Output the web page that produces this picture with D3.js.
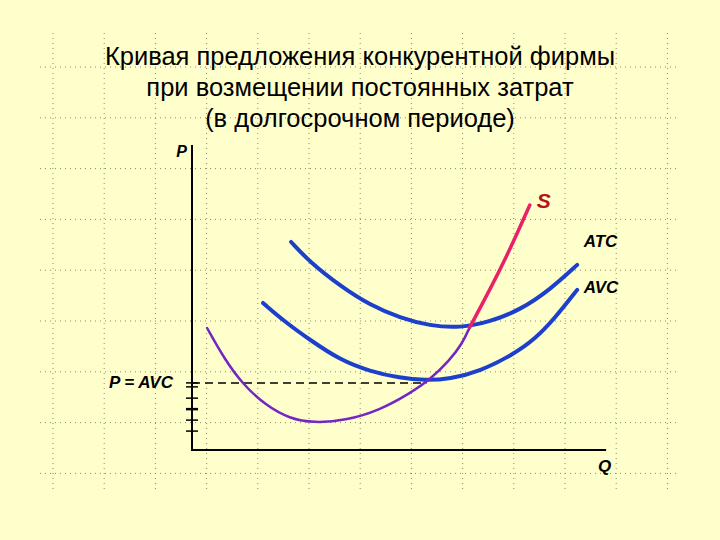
<!DOCTYPE html>
<html>
<head>
<meta charset="utf-8">
<script src="https://cdn.jsdelivr.net/npm/d3@7"></script>
<style>
  body { margin:0; background:#ffffcc; }
  svg { display:block; font-family:"Liberation Sans", Arial, sans-serif; }
</style>
</head>
<body>
<div id="chart-area"></div>
<script>
// title lines
const titleLines = ["Кривая предложения конкурентной фирмы",
                    "при возмещении постоянных затрат",
                    "(в долгосрочном периоде)"];

// curves: Q and cost values (0..100 units on both axes)
const mcQ   = [3.7, 8.1, 12.5, 17.9, 24.0, 29.9, 37.5, 46.1, 53.4, 58.3, 63.2, 66.2, 68.1];
const mcC   = [40.0, 29.5, 21.5, 14.8, 10.2, 8.9, 9.6, 13.1, 18.6, 23.0, 29.5, 34.8, 40.3];
const sQ    = [68.1, 73.0, 77.9, 82.8];
const sC    = [40.3, 52.5, 65.6, 80.3];
const atcQ  = [24.3, 28.9, 36.3, 43.6, 51.0, 58.3, 65.7, 73.0, 80.4, 87.7, 94.4];
const atcC  = [68.2, 61.6, 53.8, 47.5, 43.3, 40.7, 40.0, 42.0, 45.9, 52.5, 60.7];
const avcQ  = [17.4, 22.8, 28.9, 36.3, 43.6, 51.0, 57.1, 63.2, 70.6, 78.7, 84.1, 89.0, 94.4];
const avcC  = [48.2, 42.0, 36.1, 29.5, 25.8, 23.6, 22.8, 23.3, 25.8, 31.3, 36.4, 43.3, 52.5];

// P = AVC level and the little ticks on the price axis
const pAvc = 22.0;
const pAvcQ = 57.5;
const priceTicks = [22.0, 20.7, 17.0, 13.4, 9.8, 6.2];

const W = 720, H = 540;
const margin = { left:192, right:120, top:145, bottom:90 };
const width = W - margin.left - margin.right,
      height = H - margin.top - margin.bottom;

const svg = d3.select("#chart-area")
    .append("svg")
    .attr("width", W)
    .attr("height", H);

svg.append("rect").attr("width", W).attr("height", H).attr("fill", "#ffffcc");

// dotted background grid
const gridX = d3.range(13).map(i => 53 + i * 51.2);
const gridY = d3.range(9).map(i => 67 + i * 50.8);
svg.append("g").selectAll("line.gx")
    .data(gridX).enter().append("line")
    .attr("x1", d => d).attr("x2", d => d)
    .attr("y1", 33).attr("y2", 493)
    .attr("stroke", "#8a8a70").attr("stroke-width", 1)
    .attr("stroke-dasharray", "1,4");
svg.append("g").selectAll("line.gy")
    .data(gridY).enter().append("line")
    .attr("x1", 40).attr("x2", 680)
    .attr("y1", d => d).attr("y2", d => d)
    .attr("stroke", "#8a8a70").attr("stroke-width", 1)
    .attr("stroke-dasharray", "1,4");

// title
svg.append("g").selectAll("text")
    .data(titleLines).enter().append("text")
    .attr("x", 360)
    .attr("y", (d, i) => 65 + i * 31)
    .attr("text-anchor", "middle")
    .attr("font-size", "25.5px")
    .attr("fill", "#000")
    .text(d => d);

const g = svg.append("g")
    .attr("transform", "translate(" + margin.left + ", " + margin.top + ")");

const x = d3.scaleLinear().domain([0, 100]).range([0, width]);
const y = d3.scaleLinear().domain([0, 100]).range([height, 0]);

const line = d3.line()
    .x(d => x(d[0]))
    .y(d => y(d[1]))
    .curve(d3.curveBasis);

function pts(qs, cs) { return qs.map((q, i) => [q, cs[i]]); }

// dashed P = AVC line
g.append("line")
    .attr("x1", 0).attr("x2", x(pAvcQ))
    .attr("y1", y(pAvc)).attr("y2", y(pAvc))
    .attr("stroke", "#000").attr("stroke-width", 1.5)
    .attr("stroke-dasharray", "8,5");

// axes
g.append("line")
    .attr("x1", 0).attr("x2", 0)
    .attr("y1", 0).attr("y2", height + 1)
    .attr("stroke", "#000").attr("stroke-width", 2);
g.append("line")
    .attr("x1", 0).attr("x2", x(101.5))
    .attr("y1", height).attr("y2", height)
    .attr("stroke", "#000").attr("stroke-width", 2);

g.selectAll("line.tick")
    .data(priceTicks).enter().append("line")
    .attr("x1", -6).attr("x2", 6)
    .attr("y1", d => y(d)).attr("y2", d => y(d))
    .attr("stroke", "#000")
    .attr("stroke-width", (d, i) => i === 3 ? 2.5 : 1.5);

// curves
g.append("path").datum(pts(avcQ, avcC))
    .attr("d", line).attr("fill", "none")
    .attr("stroke", "#1c3fcc").attr("stroke-width", 4)
    .attr("stroke-linecap", "round");
g.append("path").datum(pts(atcQ, atcC))
    .attr("d", line).attr("fill", "none")
    .attr("stroke", "#1c3fcc").attr("stroke-width", 4)
    .attr("stroke-linecap", "round");
g.append("path").datum(pts(mcQ, mcC))
    .attr("d", line).attr("fill", "none")
    .attr("stroke", "#7426c4").attr("stroke-width", 2.5)
    .attr("stroke-linecap", "round");
g.append("path").datum(pts(sQ, sC))
    .attr("d", line).attr("fill", "none")
    .attr("stroke", "#ea2168").attr("stroke-width", 3.5)
    .attr("stroke-linecap", "round");

// labels
const lab = (tx, ty, t, opts) => g.append("text")
    .attr("x", tx).attr("y", ty)
    .attr("font-size", opts.size || "17px")
    .attr("font-weight", "bold")
    .attr("font-style", opts.italic === false ? "normal" : "italic")
    .attr("fill", opts.color || "#000")
    .attr("text-anchor", opts.anchor || "start")
    .text(t);

lab(-5, 12, "P", { anchor:"end", size:"16px" });
lab(x(99.5), height + 22, "Q", { size:"17px" });
lab(-19, y(pAvc) + 5, "P = AVC", { anchor:"end" });
lab(x(96), y(66.5), "ATC", {});
lab(x(96), y(51.5), "AVC", {});
lab(x(84.5), y(79.5), "S", { size:"21px", color:"#b5121b" });
</script>
</body>
</html>
